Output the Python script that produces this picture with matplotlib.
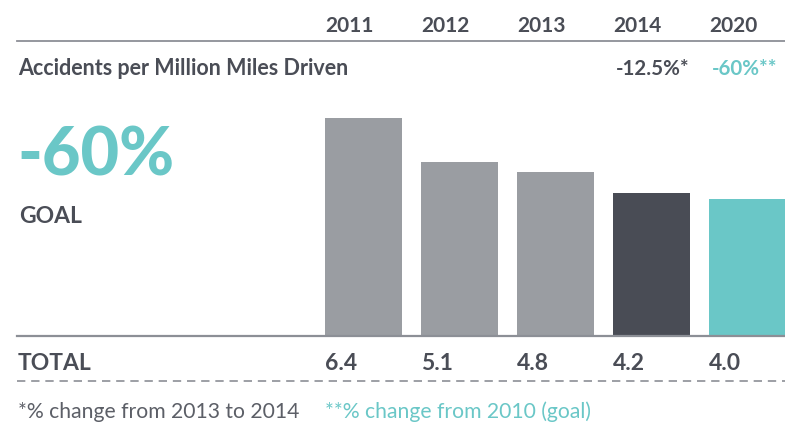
import matplotlib
matplotlib.use("Agg")
import matplotlib.pyplot as plt
from matplotlib.lines import Line2D
from matplotlib.transforms import blended_transform_factory

# data
years = ["2011", "2012", "2013", "2014", "2020"]
totals = [6.4, 5.1, 4.8, 4.2, 4.0]
total_labels = ["6.4", "5.1", "4.8", "4.2", "4.0"]
change_labels = ["", "", "", "-12.5%*", "-60%**"]

W, H = 785, 427
DARK = "#4a4d56"
GRAY = "#9a9da2"
TEAL = "#6ac7c7"
LINE = "#8c8f96"

bar_colors = [GRAY, GRAY, GRAY, "#494c55", TEAL]
change_colors = [DARK, DARK, DARK, DARK, TEAL]

plt.rcParams["font.family"] = ["Lato", "DejaVu Sans"]

fig = plt.figure(figsize=(W / 100, H / 100), dpi=100)


def fx(px):
    return px / W


def fy(py):
    return 1 - py / H


# bar axes: x=0 at left edge of first bar (px 325), 96 px per category
left_px, step = 325, 96
base_px, top_px = 336, 119
ax = fig.add_axes([fx(left_px), fy(base_px), fx(W - left_px), (base_px - top_px) / H])
ax.bar(range(len(years)), totals, width=0.8, align="edge", color=bar_colors)
ax.set_xlim(0, (W - left_px) / step)
ax.set_ylim(0, max(totals))
ax.axis("off")

tr = blended_transform_factory(ax.transData, fig.transFigure)

# horizontal rules
fig.add_artist(Line2D([fx(17), 1], [fy(42), fy(42)], color=LINE, lw=1.3))
fig.add_artist(Line2D([fx(17), 1], [fy(337), fy(337)], color=LINE, lw=1.6))
fig.add_artist(Line2D([fx(17), 1], [fy(382), fy(382)], color=LINE, lw=1.2,
                      linestyle=(0, (5, 3.5))))

for i, y in enumerate(years):
    ax.text(i, fy(31.5), y, transform=tr, ha="left", va="baseline",
            fontsize=15, fontweight="bold", color=DARK)
    if change_labels[i]:
        ax.text(i + 0.03, fy(75), change_labels[i], transform=tr, ha="left",
                va="baseline", fontsize=14.8, fontweight="bold", color=change_colors[i])
    ax.text(i, fy(370), total_labels[i], transform=tr, ha="left",
            va="baseline", fontsize=16.5, fontweight="bold", color=DARK)

fig.text(fx(18), fy(75), "Accidents per Million Miles Driven", ha="left",
         va="baseline", fontsize=15.5, fontweight="bold", color=DARK)
fig.text(fx(17), fy(176), "-60%", ha="left", va="baseline", fontsize=48,
         fontweight="black", color=TEAL)
fig.text(fx(19), fy(223), "GOAL", ha="left", va="baseline", fontsize=16.5,
         fontweight="bold", color=DARK)
fig.text(fx(18), fy(370), "TOTAL", ha="left", va="baseline", fontsize=16.5,
         fontweight="bold", color=DARK)
fig.text(fx(18), fy(418), "*% change from 2013 to 2014", ha="left",
         va="baseline", fontsize=15.2, color="#5c5f67")
fig.text(fx(325), fy(418), "**% change from 2010 (goal)", ha="left",
         va="baseline", fontsize=15.2, color=TEAL)

fig.savefig("out.png", dpi=100)
